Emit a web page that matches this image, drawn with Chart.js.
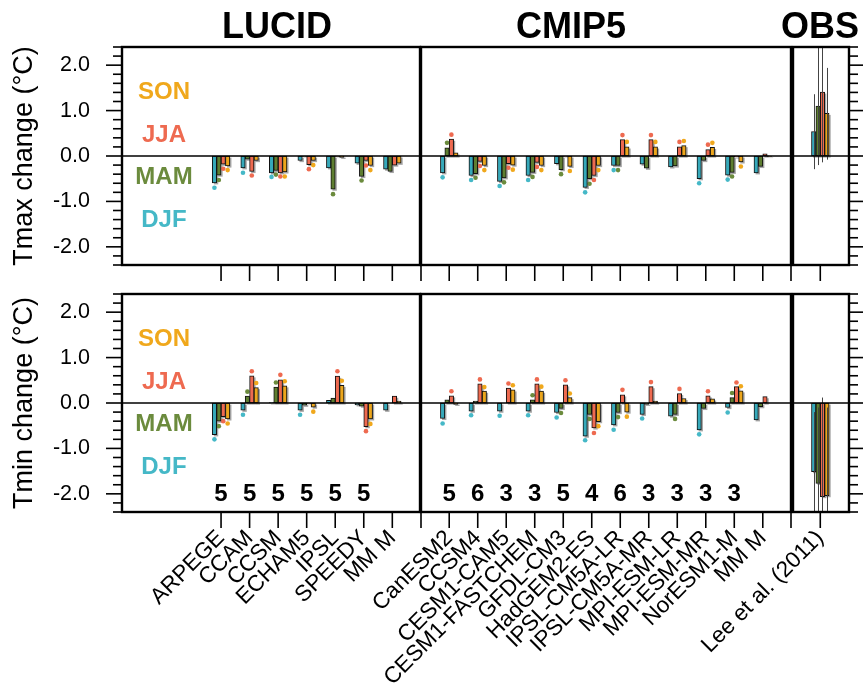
<!DOCTYPE html>
<html>
<head>
<meta charset="utf-8">
<script src="https://cdn.jsdelivr.net/npm/chart.js@4"></script>
<style>
  body { margin: 0; background: #fff; }
  #wrap { position: relative; width: 863px; height: 687px; overflow: hidden;
          font-family: "Liberation Sans", Arial, Helvetica, sans-serif; }
  #wrap canvas { position: absolute; left: 0; top: 0; }
  .ttl { position: absolute; top: 8px; font-weight: bold; font-size: 36px; line-height: 36px;
         transform: translateX(-50%); white-space: nowrap; }
</style>
</head>
<body>
<div id="wrap">
  <canvas id="tL" width="863" height="687"></canvas>
  <canvas id="tC" width="863" height="687"></canvas>
  <canvas id="tO" width="863" height="687"></canvas>
  <canvas id="bL" width="863" height="687"></canvas>
  <canvas id="bC" width="863" height="687"></canvas>
  <canvas id="bO" width="863" height="687"></canvas>
  <div class="ttl" style="left:277px">LUCID</div>
  <div class="ttl" style="left:571px">CMIP5</div>
  <div class="ttl" style="left:820px">OBS</div>
</div>
<script>
// categories
const seasons = ['DJF', 'MAM', 'JJA', 'SON'];
const lucidModels = ['ARPEGE', 'CCAM', 'CCSM', 'ECHAM5', 'IPSL', 'SPEEDY', 'MM M'];
const cmipModels = ['CanESM2', 'CCSM4', 'CESM1-CAM5', 'CESM1-FASTCHEM', 'GFDL-CM3', 'HadGEM2-ES',
  'IPSL-CM5A-LR', 'IPSL-CM5A-MR', 'MPI-ESM-LR', 'MPI-ESM-MR', 'NorESM1-M', 'MM M'];
const obsNames = ['Lee et al. (2011)'];
const yTicks = [-2, -1, 0, 1, 2];

// Tmax, LUCID (bars, then dots)
const lucidTmaxDJF = [-0.59, -0.26, -0.37, -0.10, -0.26, -0.16, -0.29];
const lucidTmaxMAM = [-0.42, -0.07, -0.32, -0.01, -0.73, -0.45, -0.34];
const lucidTmaxJJA = [-0.18, -0.34, -0.37, -0.19, -0.01, -0.10, -0.20];
const lucidTmaxSON = [-0.22, -0.10, -0.35, -0.10, -0.03, -0.21, -0.16];
const lucidTmaxDotDJF = [-0.70, -0.37, -0.46, null, null, null, null];
const lucidTmaxDotMAM = [-0.53, null, -0.41, null, -0.84, -0.54, null];
const lucidTmaxDotJJA = [-0.28, -0.43, -0.45, -0.29, null, -0.21, null];
const lucidTmaxDotSON = [-0.31, null, -0.45, -0.20, null, -0.31, null];

// Tmax, CMIP5
const cmipTmaxDJF = [-0.37, -0.43, -0.56, -0.43, -0.17, -0.69, -0.21, -0.18, -0.24, -0.50, -0.42, -0.37];
const cmipTmaxMAM = [0.18, -0.39, -0.48, -0.36, -0.30, -0.50, -0.21, -0.27, -0.22, -0.10, -0.36, -0.23];
const cmipTmaxJJA = [0.37, -0.12, -0.17, -0.14, -0.01, -0.43, 0.36, 0.36, 0.20, 0.14, -0.02, 0.05];
const cmipTmaxSON = [0.07, -0.21, -0.20, -0.21, -0.23, -0.21, 0.20, 0.20, 0.23, 0.19, -0.13, -0.01];
const cmipTmaxDotDJF = [-0.47, -0.53, -0.66, -0.53, null, -0.80, -0.31, null, null, -0.60, -0.52, null];
const cmipTmaxDotMAM = [0.29, -0.48, -0.58, -0.46, -0.40, -0.61, -0.31, null, null, null, -0.45, null];
const cmipTmaxDotJJA = [0.47, -0.22, -0.26, -0.24, null, -0.53, 0.46, 0.46, 0.31, 0.25, null, null];
const cmipTmaxDotSON = [null, -0.31, -0.30, -0.31, -0.33, -0.31, 0.31, 0.31, 0.33, 0.29, -0.23, null];

// Tmin, LUCID
const lucidTminDJF = [-0.70, -0.16, 0.01, -0.16, 0.06, -0.04, -0.16];
const lucidTminMAM = [-0.40, 0.15, 0.35, -0.05, 0.11, -0.07, 0.00];
const lucidTminJJA = [-0.30, 0.60, 0.51, -0.01, 0.59, -0.52, 0.15];
const lucidTminSON = [-0.35, 0.34, 0.38, -0.09, 0.39, -0.35, 0.04];
const lucidTminDotDJF = [-0.80, -0.26, null, -0.26, null, null, null];
const lucidTminDotMAM = [-0.51, 0.25, 0.45, null, null, null, null];
const lucidTminDotJJA = [-0.40, 0.70, 0.62, null, 0.70, -0.62, null];
const lucidTminDotSON = [-0.45, 0.44, 0.48, -0.19, 0.49, -0.46, null];

// Tmin, CMIP5
const cmipTminDJF = [-0.34, -0.18, -0.18, -0.18, -0.21, -0.73, -0.48, -0.25, -0.29, -0.59, -0.10, -0.37];
const cmipTminMAM = [0.07, 0.04, 0.00, 0.07, -0.12, -0.25, -0.21, -0.03, -0.25, -0.12, 0.12, -0.08];
const cmipTminJJA = [0.16, 0.42, 0.33, 0.42, 0.40, -0.55, 0.18, 0.36, 0.21, 0.16, 0.36, 0.14];
const cmipTminSON = [-0.03, 0.26, 0.29, 0.26, 0.12, -0.41, -0.20, 0.04, 0.10, 0.09, 0.27, 0.00];
const cmipTminDotDJF = [-0.45, -0.27, -0.28, -0.27, -0.32, -0.82, -0.59, -0.34, null, -0.69, -0.21, null];
const cmipTminDotMAM = [null, null, null, 0.17, -0.22, -0.35, -0.31, null, -0.35, null, 0.22, null];
const cmipTminDotJJA = [0.26, 0.52, 0.43, 0.52, 0.50, -0.66, 0.29, 0.46, 0.31, 0.26, 0.45, null];
const cmipTminDotSON = [null, 0.35, 0.39, 0.36, 0.21, -0.51, -0.30, null, null, null, 0.37, null];

// OBS (one group, DJF MAM JJA SON) with error ranges
const obsTmax = [0.54, 1.10, 1.41, 0.94];
const obsTmaxLo = [-0.29, -0.20, -0.14, -0.08];
const obsTmaxHi = [1.36, 2.60, 3.00, 1.94];
const obsTmin = [-1.51, -1.77, -2.06, -2.04];
const obsTminLo = [-2.90, -3.50, -3.50, -3.20];
const obsTminHi = [-0.20, -0.10, 0.12, -0.10];

// number of members, printed in the lower panel
const lucidCount = [5, 5, 5, 5, 5, 5, null];
const cmipCount = [5, 6, 3, 3, 5, 4, 6, 3, 3, 3, 3, null];

const barColors = ['#36A9BA', '#5E7E30', '#EE6A50', '#ECA61C'];
const dotColors = ['#45B8C7', '#6B8B3D', '#EE6A50', '#F0A81C'];
const legendY = [-1.41, -0.47, 0.45, 1.40];

const SLOT = 28.5, BAR_W = 4.4;

Chart.defaults.font.family = '"Liberation Sans", Arial, Helvetica, sans-serif';
Chart.defaults.color = '#000';

function decoFor(o) {
  return {
    id: 'deco',
    beforeDatasetsDraw(chart) {
      // grey drop shadow behind every bar
      const ctx = chart.ctx, a = chart.chartArea;
      ctx.save();
      ctx.beginPath();
      ctx.rect(a.left, a.top, a.right - a.left, a.bottom - a.top);
      ctx.clip();
      ctx.fillStyle = 'rgba(0,0,0,0.35)';
      chart.data.datasets.forEach((ds, k) => {
        const meta = chart.getDatasetMeta(k);
        if (meta.type !== 'bar') return;
        meta.data.forEach(el => {
          const p = el.getProps(['x', 'y', 'base', 'width'], true);
          if (p.y == null || isNaN(p.y)) return;
          const t = Math.min(p.y, p.base), b = Math.max(p.y, p.base);
          ctx.fillRect(p.x - p.width / 2 + 1.6, t + 1.6, p.width, b - t);
        });
      });
      ctx.restore();
    },
    afterDatasetsDraw(chart) {
      const ctx = chart.ctx, a = chart.chartArea;
      const xs = chart.scales.x, ys = chart.scales.y;
      ctx.save();
      if (o.errLo) {
        ctx.save();
        ctx.beginPath();
        ctx.rect(a.left, a.top, a.right - a.left, a.bottom - a.top);
        ctx.clip();
        ctx.strokeStyle = '#444';
        ctx.lineWidth = 1;
        o.errLo.forEach((lo, k) => {
          const el = chart.getDatasetMeta(k).data[0];
          const px = Math.round(el.x) + 0.5;
          ctx.beginPath();
          ctx.moveTo(px, ys.getPixelForValue(lo));
          ctx.lineTo(px, ys.getPixelForValue(o.errHi[k]));
          ctx.stroke();
        });
        ctx.restore();
      }
      const y0 = ys.getPixelForValue(0);
      ctx.strokeStyle = '#000';
      ctx.lineWidth = 1.5;
      ctx.beginPath();
      ctx.moveTo(a.left, y0);
      ctx.lineTo(a.right, y0);
      ctx.stroke();

      ctx.lineWidth = 2.4;
      ctx.strokeRect(a.left, a.top, a.right - a.left, a.bottom - a.top);

      // outward ticks under the panel
      ctx.lineWidth = 1.6;
      o.names.map((n, i) => i).concat(o.edgeTicks).forEach(v => {
        const px = xs.getPixelForValue(v);
        ctx.beginPath();
        ctx.moveTo(px, a.bottom);
        ctx.lineTo(px, a.bottom + 16);
        ctx.stroke();
      });
      // y ticks, major every 1.0 and minor every 0.2
      if (o.side) {
        const x0 = o.side === 'left' ? a.left : a.right;
        const dir = o.side === 'left' ? -1 : 1;
        for (let k = -12; k <= 12; k++) {
          const py = ys.getPixelForValue(k / 5);
          ctx.beginPath();
          ctx.moveTo(x0, py);
          ctx.lineTo(x0 + dir * (k % 5 === 0 ? 16 : 9), py);
          ctx.stroke();
        }
      }
      if (o.legend) {
        ctx.font = 'bold 24px "Liberation Sans", Arial, sans-serif';
        ctx.textAlign = 'center';
        ctx.textBaseline = 'middle';
        seasons.forEach((s, k) => {
          ctx.fillStyle = dotColors[k];
          ctx.fillText(s, xs.getPixelForValue(-2.0), ys.getPixelForValue(legendY[k]));
        });
      }
      if (o.counts) {
        ctx.font = 'bold 24px "Liberation Sans", Arial, sans-serif';
        ctx.textAlign = 'center';
        ctx.textBaseline = 'middle';
        ctx.fillStyle = '#000';
        o.counts.forEach((c, i) => {
          if (c == null) return;
          ctx.fillText(String(c), xs.getPixelForValue(i), ys.getPixelForValue(-2.02));
        });
      }
      ctx.restore();
    }
  };
}

function makePanel(id, o) {
  const datasets = [];
  o.bars.forEach((vals, k) => datasets.push({
    type: 'bar',
    label: seasons[k],
    data: vals.map((v, i) => ({ x: i, y: v })),
    backgroundColor: barColors[k],
    borderColor: '#111',
    borderWidth: 1,
    borderSkipped: false,
    barThickness: BAR_W
  }));
  (o.dots || []).forEach((vals, k) => datasets.push({
    type: 'scatter',
    label: seasons[k] + ' pt',
    data: vals.map((v, i) => ({ x: i + (k - 1.5) * BAR_W / SLOT, y: v })),
    backgroundColor: dotColors[k],
    borderWidth: 0,
    pointRadius: 2.3
  }));
  const names = o.names;
  const hasY = !!o.yTitle;
  return new Chart(document.getElementById(id), {
    type: 'bar',
    data: { datasets },
    options: {
      responsive: false,
      animation: false,
      events: [],
      layout: {
        padding: {
          left: hasY ? 0 : o.left,
          right: 863 - o.right,
          top: o.top,
          bottom: o.labels ? 0 : 687 - o.bottom
        }
      },
      plugins: { legend: { display: false }, tooltip: { enabled: false } },
      scales: {
        x: {
          type: 'linear',
          offset: false,
          min: o.xMin,
          max: o.xMax,
          display: o.labels,
          grid: { display: false, drawTicks: false, offset: false },
          border: { display: false },
          afterBuildTicks: s => { s.ticks = names.map((n, i) => ({ value: i })); },
          afterFit: s => { if (o.labels) s.height = 687 - o.bottom; },
          ticks: {
            autoSkip: false, maxRotation: 45, minRotation: 45, padding: 13,
            font: { size: 22.5 },
            callback: v => names[v]
          }
        },
        y: {
          type: 'linear',
          min: -2.4,
          max: 2.4,
          display: hasY,
          grid: { display: false, drawTicks: false },
          border: { display: false },
          afterBuildTicks: s => { s.ticks = yTicks.map(v => ({ value: v })); },
          afterFit: s => { if (hasY) s.width = o.left; },
          ticks: { padding: 32, font: { size: 21.5 }, callback: v => v.toFixed(1) },
          title: { display: hasY, text: o.yTitle, font: { size: 27 }, padding: { top: 8 } }
        }
      }
    },
    plugins: [decoFor(o)]
  });
}

const rowTop = { top: 47, bottom: 265, labels: false };
const rowBot = { top: 294, bottom: 512, labels: true };

makePanel('tL', Object.assign({}, rowTop, {
  left: 122, right: 420, xMin: -3.47, xMax: 6.97, names: lucidModels, edgeTicks: [],
  bars: [lucidTmaxDJF, lucidTmaxMAM, lucidTmaxJJA, lucidTmaxSON],
  dots: [lucidTmaxDotDJF, lucidTmaxDotMAM, lucidTmaxDotJJA, lucidTmaxDotSON],
  yTitle: 'Tmax change (°C)', side: 'left', legend: true
}));
makePanel('tC', Object.assign({}, rowTop, {
  left: 421, right: 791, xMin: -0.99, xMax: 11.99, names: cmipModels, edgeTicks: [-0.99, 11.99],
  bars: [cmipTmaxDJF, cmipTmaxMAM, cmipTmaxJJA, cmipTmaxSON],
  dots: [cmipTmaxDotDJF, cmipTmaxDotMAM, cmipTmaxDotJJA, cmipTmaxDotSON]
}));
makePanel('tO', Object.assign({}, rowTop, {
  left: 793, right: 849, xMin: -0.95, xMax: 1.0, names: obsNames, edgeTicks: [],
  bars: obsTmax.map(v => [v]), errLo: obsTmaxLo, errHi: obsTmaxHi, side: 'right'
}));
makePanel('bL', Object.assign({}, rowBot, {
  left: 122, right: 420, xMin: -3.47, xMax: 6.97, names: lucidModels, edgeTicks: [],
  bars: [lucidTminDJF, lucidTminMAM, lucidTminJJA, lucidTminSON],
  dots: [lucidTminDotDJF, lucidTminDotMAM, lucidTminDotJJA, lucidTminDotSON],
  yTitle: 'Tmin change (°C)', side: 'left', legend: true, counts: lucidCount
}));
makePanel('bC', Object.assign({}, rowBot, {
  left: 421, right: 791, xMin: -0.99, xMax: 11.99, names: cmipModels, edgeTicks: [-0.99, 11.99],
  bars: [cmipTminDJF, cmipTminMAM, cmipTminJJA, cmipTminSON],
  dots: [cmipTminDotDJF, cmipTminDotMAM, cmipTminDotJJA, cmipTminDotSON],
  counts: cmipCount
}));
makePanel('bO', Object.assign({}, rowBot, {
  left: 793, right: 849, xMin: -0.95, xMax: 1.0, names: obsNames, edgeTicks: [],
  bars: obsTmin.map(v => [v]), errLo: obsTminLo, errHi: obsTminHi, side: 'right'
}));
</script>
</body>
</html>
